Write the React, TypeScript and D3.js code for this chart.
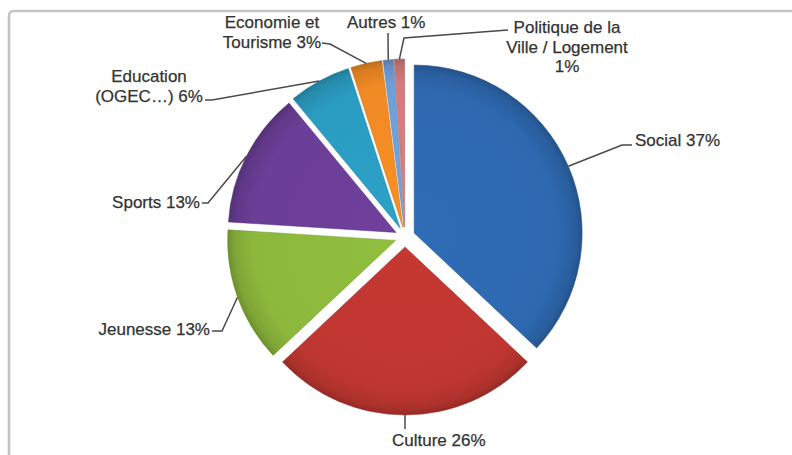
import React from "react";
import * as d3 from "d3";

const categories = [
  "Social",
  "Culture",
  "Jeunesse",
  "Sports",
  "Education (OGEC…)",
  "Economie et Tourisme",
  "Autres",
  "Politique de la Ville / Logement",
];
const values = [37, 26, 13, 13, 6, 3, 1, 1];
const labelLines = [
  ["Social 37%"],
  ["Culture 26%"],
  ["Jeunesse 13%"],
  ["Sports 13%"],
  ["Education", "(OGEC…) 6%"],
  ["Economie et", "Tourisme 3%"],
  ["Autres 1%"],
  ["Politique de la", "Ville / Logement", "1%"],
];

const colors = ["#2e69b0", "#bf3630", "#8cb83c", "#6b3e97", "#2a9cc1", "#f08a24", "#6f9fd8", "#d47b7b"];

// layout of labels (text anchor point + leader bend points)
const labelLayout = [
  { x: 635, y: 146, anchor: "start", path: [[622, 145], [632, 145]] },
  { x: 392, y: 446, anchor: "start", path: [[405, 429]] },
  { x: 210, y: 335, anchor: "end", path: [[222, 331], [212, 331]] },
  { x: 200, y: 208, anchor: "end", path: [[208, 203], [202, 203]] },
  { x: 149, y: 82, anchor: "middle", path: [[212, 100], [205, 100]] },
  { x: 272, y: 28, anchor: "middle", path: [[330, 44], [322, 43]] },
  { x: 347, y: 28, anchor: "start", path: [[388, 33]] },
  { x: 567, y: 33, anchor: "middle", path: [[404, 38], [508, 30]] },
];

const W = 792;
const H = 455;
const cx = 405;
const cy = 237;
const R = 168;
const explode = 10;
const lineH = 19.5;

export default function App() {
  const pie = d3.pie<number>().sort(null).value((d) => d)(values);
  const arc = d3.arc<d3.PieArcDatum<number>>().innerRadius(0).outerRadius(R);

  return (
    <svg
      width={W}
      height={H}
      style={{ position: "fixed", left: 0, top: 0, background: "#fff" }}
      fontFamily="'Liberation Sans', Arial, sans-serif"
    >
      <defs>
        {colors.map((c, i) => {
          const base = d3.color(c)!;
          return (
            <radialGradient
              key={i}
              id={`g${i}`}
              gradientUnits="userSpaceOnUse"
              cx={0}
              cy={0}
              r={R}
            >
              <stop offset="0%" stopColor={base.brighter(0.1).formatHex()} />
              <stop offset="85%" stopColor={c} />
              <stop offset="96%" stopColor={base.darker(0.3).formatHex()} />
              <stop offset="100%" stopColor={base.darker(0.7).formatHex()} />
            </radialGradient>
          );
        })}
      </defs>

      {/* frame */}
      <path d={`M9,${H} L9,16 Q9,11 14,11 L${W},11`} fill="none" stroke="#c4c4c4" strokeWidth={2.5} />

      <g transform={`translate(${cx},${cy})`}>
        {pie.map((p, i) => {
          const mid = (p.startAngle + p.endAngle) / 2;
          const dx = Math.sin(mid) * explode;
          const dy = -Math.cos(mid) * explode;
          return (
            <g key={i} transform={`translate(${dx},${dy})`}>
              <path
                d={arc(p)!}
                fill={`url(#g${i})`}
                stroke={d3.color(colors[i])!.darker(0.6).formatHex()}
                strokeOpacity={0.5}
                strokeWidth={1}
              />
            </g>
          );
        })}
      </g>

      {pie.map((p, i) => {
        const mid = (p.startAngle + p.endAngle) / 2;
        const sx = cx + Math.sin(mid) * (explode + R);
        const sy = cy - Math.cos(mid) * (explode + R);
        const L = labelLayout[i];
        const pts = [[sx, sy], ...L.path];
        const line = d3.line()(pts as [number, number][]);
        return (
          <g key={`l${i}`}>
            <path d={line!} fill="none" stroke="#4a4a4a" strokeWidth={1.5} />
            <text
              x={L.x}
              y={L.y}
              textAnchor={L.anchor}
              fontSize={17}
              fill="#333"
              stroke="#333"
              strokeWidth={0.25}
            >
              {labelLines[i].map((t, j) => (
                <tspan key={j} x={L.x} dy={j === 0 ? 0 : lineH}>
                  {t}
                </tspan>
              ))}
            </text>
          </g>
        );
      })}
    </svg>
  );
}
